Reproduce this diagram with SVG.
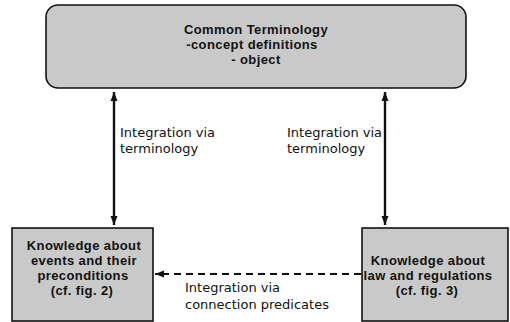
<svg xmlns="http://www.w3.org/2000/svg" width="510" height="322" viewBox="0 0 510 322">
  <style>
    .box { fill: #c9c9c9; stroke: #111; stroke-width: 1.6; }
    .bt { font-family: "Liberation Sans", Arial, sans-serif; font-weight: bold; font-size: 13px; letter-spacing: 0.4px; fill: #111; text-anchor: middle; }
    .lbl { font-family: "DejaVu Sans", sans-serif; font-size: 13px; fill: #111; }
    .conn { stroke: #111; stroke-width: 2.4; fill: none; }
    .dash { stroke: #111; stroke-width: 2.2; fill: none; stroke-dasharray: 7 5; }
  </style>
  <defs>
    <marker id="ah" markerUnits="userSpaceOnUse" markerWidth="10" markerHeight="10" viewBox="0 0 10 10" refX="9" refY="5" orient="auto-start-reverse">
      <path d="M0,1.5 L9,5 L0,8.5 Z" fill="#111"/>
    </marker>
  </defs>
  <rect width="510" height="322" fill="#ffffff"/>
  <g id="common-terminology">
    <rect class="box" x="46" y="5" width="420" height="83" rx="12" ry="12" fill="#cdcdcd"/>
    <text class="bt" x="256" y="34">Common Terminology</text>
    <text class="bt" x="252" y="49">-concept definitions</text>
    <text class="bt" x="256" y="64">- object</text>
  </g>
  <g id="events-knowledge">
    <rect class="box" x="12" y="228" width="141" height="93"/>
    <text class="bt" x="84" y="250">Knowledge about</text>
    <text class="bt" x="84" y="265">events and their</text>
    <text class="bt" x="83" y="280">preconditions</text>
    <text class="bt" x="82" y="295">(cf. fig. 2)</text>
  </g>
  <g id="law-knowledge">
    <rect class="box" x="362" y="228" width="146" height="93"/>
    <text class="bt" x="428" y="265">Knowledge about</text>
    <text class="bt" x="428" y="280">law and regulations</text>
    <text class="bt" x="427" y="295">(cf. fig. 3)</text>
  </g>
  <g id="connectors">
    <line class="conn" x1="114" y1="92" x2="114" y2="225" marker-start="url(#ah)" marker-end="url(#ah)"/>
    <line class="conn" x1="385" y1="92" x2="385" y2="225" marker-start="url(#ah)" marker-end="url(#ah)"/>
    <line class="dash" x1="361" y1="274" x2="155" y2="274" marker-end="url(#ah)"/>
  </g>
  <g id="labels">
    <text class="lbl" x="120" y="137">Integration via</text>
    <text class="lbl" x="120" y="153">terminology</text>
    <text class="lbl" x="287" y="137">Integration via</text>
    <text class="lbl" x="287" y="153">terminology</text>
    <text class="lbl" x="185" y="292">Integration via</text>
    <text class="lbl" x="185" y="309">connection predicates</text>
  </g>
</svg>
